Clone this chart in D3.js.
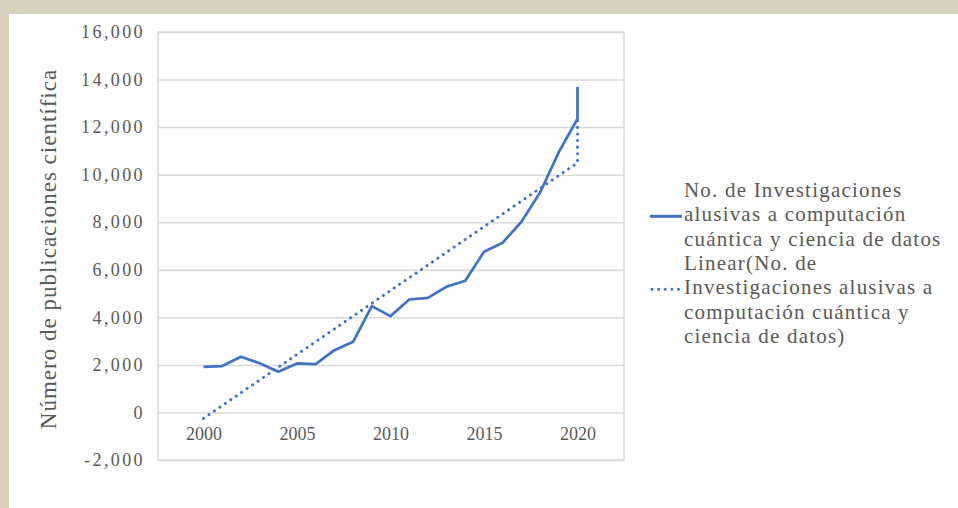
<!DOCTYPE html>
<html>
<head>
<meta charset="utf-8">
<script src="https://cdn.jsdelivr.net/npm/d3@7"></script>
<style>
  body { margin: 0; background: #d6d2bd; }
  svg { display: block; }
  svg text { font-family: "Liberation Serif", "Times New Roman", "DejaVu Serif", serif !important; fill: #595959; }
</style>
</head>
<body>
<div id="chart"></div>
<script>
// data
var years = [2000, 2001, 2002, 2003, 2004, 2005, 2006, 2007, 2008, 2009, 2010,
             2011, 2012, 2013, 2014, 2015, 2016, 2017, 2018, 2019, 2020, 2020];
var publications = [1920, 1950, 2340, 2070, 1710, 2060, 2030, 2620, 2970, 4470, 4050,
                    4750, 4820, 5290, 5540, 6760, 7140, 8020, 9250, 10950, 12350, 13700];
var trendYears  = [2000, 2020, 2020];
var trendValues = [-250, 10500, 12300];
var yTicks = [-2000, 0, 2000, 4000, 6000, 8000, 10000, 12000, 14000, 16000];
var xTicks = [2000, 2005, 2010, 2015, 2020];
var legendSeries = ["No. de Investigaciones", "alusivas a computación", "cuántica y ciencia de datos"];
var legendTrend = ["Linear(No. de", "Investigaciones alusivas a", "computación cuántica y", "ciencia de datos)"];

const W = 958, H = 508;
const plotL = 158, plotR = 624, plotT = 32, plotB = 460;
const blue = "#4472c4";

const svg = d3.select("#chart")
              .append("svg")
              .attr("width", W)
              .attr("height", H);

// white panel over the textured background
svg.append("rect")
   .attr("x", 9).attr("y", 14)
   .attr("width", W - 9).attr("height", H - 14)
   .attr("fill", "#ffffff");

const x = d3.scaleLinear().domain([2000, 2020]).range([203.5, 577.5]);
const y = d3.scaleLinear().domain([-2000, 16000]).range([plotB, plotT]);

// plot frame
svg.append("rect")
   .attr("x", plotL).attr("y", plotT)
   .attr("width", plotR - plotL).attr("height", plotB - plotT)
   .attr("fill", "none")
   .attr("stroke", "#d9d9d9")
   .attr("stroke-width", 1.5);

// y axis with gridlines
const yAxis = svg.append("g")
   .attr("transform", "translate(" + plotL + ",0)")
   .call(d3.axisLeft(y)
     .tickValues(yTicks)
     .tickSize(-(plotR - plotL))
     .tickPadding(13)
     .tickFormat(function(d) { return d3.format(",")(d).replace("−", "-"); }));
yAxis.select(".domain").remove();
yAxis.selectAll("line").attr("stroke", "#d9d9d9").attr("stroke-width", 1.5);
yAxis.selectAll("text")
   .attr("font-size", 18)
   .attr("letter-spacing", 2.4)
   .attr("fill", "#595959");

// x axis labels
const xAxis = svg.append("g")
   .attr("transform", "translate(0," + y(0) + ")")
   .call(d3.axisBottom(x)
     .tickValues(xTicks)
     .tickSize(0)
     .tickPadding(15)
     .tickFormat(d3.format("d")));
xAxis.select(".domain").remove();
xAxis.selectAll("text")
   .attr("font-size", 18)
   .attr("fill", "#595959");

// axis title
svg.append("text")
   .attr("transform", "translate(56," + ((plotT + plotB) / 2 + 3) + ") rotate(-90)")
   .attr("text-anchor", "middle")
   .attr("font-size", 23)
   .attr("letter-spacing", 1)
   .text("Número de publicaciones científica");

// series
const line = d3.line()
   .x(function(d) { return x(d[0]); })
   .y(function(d) { return y(d[1]); });

svg.append("path")
   .datum(d3.zip(trendYears, trendValues))
   .attr("d", line)
   .attr("fill", "none")
   .attr("stroke", blue)
   .attr("stroke-width", 3)
   .attr("stroke-linecap", "round")
   .attr("stroke-dasharray", "0.1,6.5");

svg.append("path")
   .datum(d3.zip(years, publications))
   .attr("d", line)
   .attr("fill", "none")
   .attr("stroke", blue)
   .attr("stroke-width", 2.75)
   .attr("stroke-linejoin", "round");

// legend
const lg = svg.append("g");
const lineH = 24.3, textX = 684, firstBase = 197;

lg.append("line")
   .attr("x1", 650).attr("x2", 682)
   .attr("y1", firstBase + lineH - 5).attr("y2", firstBase + lineH - 5)
   .attr("stroke", blue).attr("stroke-width", 3);

lg.append("line")
   .attr("x1", 652).attr("x2", 682)
   .attr("y1", firstBase + lineH * 4 - 5).attr("y2", firstBase + lineH * 4 - 5)
   .attr("stroke", blue).attr("stroke-width", 3)
   .attr("stroke-linecap", "round")
   .attr("stroke-dasharray", "0.1,6.5");

lg.selectAll("text")
   .data(legendSeries.concat(legendTrend))
   .enter()
   .append("text")
   .attr("x", textX)
   .attr("y", function(d, i) { return firstBase + i * lineH; })
   .attr("font-size", 21)
   .attr("letter-spacing", 1.2)
   .text(function(d) { return d; });
</script>
</body>
</html>
